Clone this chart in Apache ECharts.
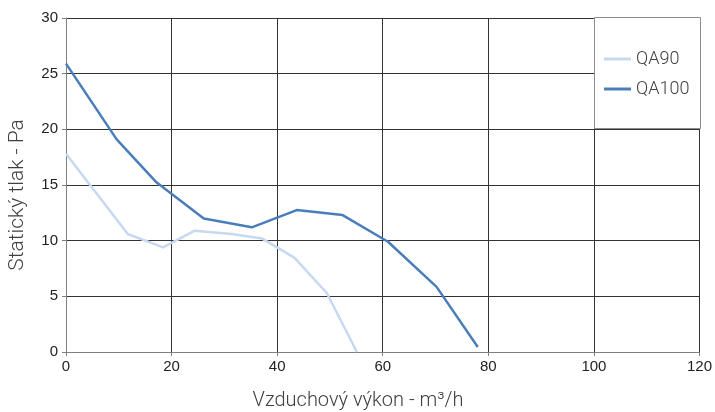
<!DOCTYPE html>
<html><head><meta charset="utf-8">
<script src="https://cdn.jsdelivr.net/npm/echarts@6/dist/echarts.min.js"></script>
<style>html,body{margin:0;padding:0;background:#fff}#c{width:715px;height:412px}</style>
</head><body><div id="c"></div>
<script>
const seriesNames = ['QA90', 'QA100'];
const qa90 = [[0,17.8],[11.7,10.6],[18.4,9.4],[24.4,10.9],[31.4,10.6],[37.1,10.2],[43.3,8.45],[49.4,5.3],[55.1,0]];
const qa100 = [[0,25.9],[9.6,19.1],[17,15.3],[26.1,12.0],[35.2,11.2],[43.7,12.75],[52.4,12.3],[61,9.9],[70.2,5.85],[78,0.45]];
const xTicks = {min:0, max:120, interval:20};
const yTicks = {min:0, max:30, interval:5};
const xTitle = 'Vzduchový výkon - m³/h';
const yTitle = 'Statický tlak - Pa';

const chart = echarts.init(document.getElementById('c'));
chart.setOption({
  animation:false,
  backgroundColor:'#fff',
  grid:{left:66, right:15, top:18, bottom:60},
  xAxis:{type:'value', min:xTicks.min, max:xTicks.max, interval:xTicks.interval,
    axisLine:{lineStyle:{color:'#7f7f7f', width:1}},
    axisTick:{show:true, length:4, lineStyle:{color:'#7f7f7f'}},
    axisLabel:{fontFamily:'Liberation Sans', fontSize:15, color:'#222', margin:7},
    splitLine:{show:true, lineStyle:{color:'#333', width:1}}},
  yAxis:{type:'value', min:yTicks.min, max:yTicks.max, interval:yTicks.interval,
    axisLine:{show:true, lineStyle:{color:'#7f7f7f', width:1}},
    axisTick:{show:true, length:4, lineStyle:{color:'#7f7f7f'}},
    axisLabel:{fontFamily:'Liberation Sans', fontSize:15, color:'#222', margin:8},
    splitLine:{show:true, lineStyle:{color:'#333', width:1}}},
  graphic:[
    {type:'rect', z:50, shape:{x:594.5, y:17.5, width:106, height:111},
      style:{fill:'#fff', stroke:'#8c8c8c', lineWidth:1}},
    {type:'text', z:50, x:358, y:401, style:{text:xTitle, fontFamily:'Roboto', fontWeight:300,
      fontSize:20, fill:'#404040', align:'center', verticalAlign:'middle'}},
    {type:'text', z:50, x:18, y:195, rotation:Math.PI/2, style:{text:yTitle, fontFamily:'Roboto', fontWeight:300,
      fontSize:21, fill:'#404040', align:'center', verticalAlign:'middle'}}
  ],
  legend:{orient:'vertical', left:599, top:45, z:60, itemGap:12, itemWidth:27, itemHeight:3,
    icon:'rect', data:seriesNames,
    textStyle:{fontFamily:'Roboto', fontWeight:300, fontSize:18, color:'#404040'}},
  series:[
    {name:seriesNames[0], type:'line', data:qa90, showSymbol:false, symbol:'none',
      lineStyle:{color:'#c6d9f1', width:2.5}, itemStyle:{color:'#c6d9f1'}},
    {name:seriesNames[1], type:'line', data:qa100, showSymbol:false, symbol:'none',
      lineStyle:{color:'#4a7ebb', width:2.5}, itemStyle:{color:'#4a7ebb'}}
  ]
});
</script></body></html>
